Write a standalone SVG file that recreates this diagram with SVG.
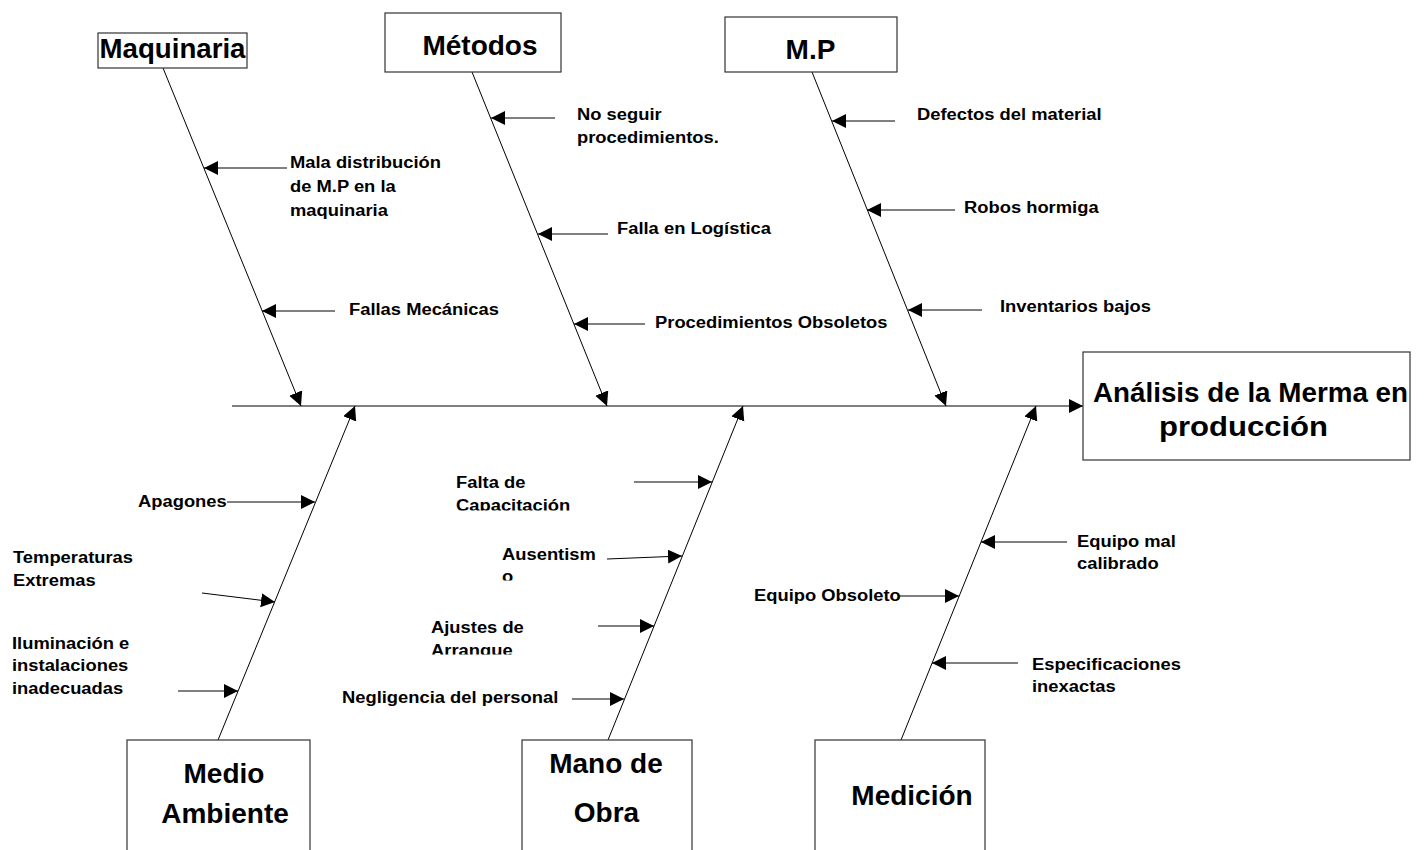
<svg xmlns="http://www.w3.org/2000/svg" width="1427" height="850" viewBox="0 0 1427 850">
<defs>
<marker id="ah" markerUnits="userSpaceOnUse" markerWidth="15" markerHeight="15" refX="14" refY="7" orient="auto">
<path d="M0,0 L14,7 L0,14 z" fill="#000"/>
</marker>
<clipPath id="cCap"><rect x="440" y="470" width="200" height="40.5"/></clipPath>
<clipPath id="cAus"><rect x="490" y="540" width="120" height="40.5"/></clipPath>
<clipPath id="cAju"><rect x="420" y="615" width="160" height="39.5"/></clipPath>
</defs>
<style>
.box{fill:#fff;stroke:#333;stroke-width:1.2}
.ln{stroke:#000;stroke-width:1;fill:none}
.ar{stroke:#000;stroke-width:1;fill:none;marker-end:url(#ah)}
.big{font-family:"Liberation Sans",Arial,sans-serif;font-weight:bold;font-size:28px;fill:#000}
.sm{font-family:"Liberation Sans",Arial,sans-serif;font-weight:bold;font-size:17px;fill:#000}
</style>
<rect width="1427" height="850" fill="#fff"/>

<g id="connectors">
<line class="ar" x1="232" y1="406" x2="1083" y2="406"/>
<line class="ar" x1="163" y1="68" x2="301" y2="406"/>
<line class="ar" x1="472" y1="72" x2="607" y2="406"/>
<line class="ar" x1="812" y1="72" x2="946" y2="406"/>
<line class="ar" x1="218" y1="740" x2="355" y2="406"/>
<line class="ar" x1="608" y1="740" x2="743" y2="406"/>
<line class="ar" x1="901" y1="740" x2="1036" y2="406"/>
<line class="ar" x1="287" y1="168" x2="204" y2="168"/>
<line class="ar" x1="335" y1="311" x2="262" y2="311"/>
<line class="ar" x1="555" y1="118" x2="491" y2="118"/>
<line class="ar" x1="608" y1="234" x2="538" y2="234"/>
<line class="ar" x1="645" y1="324" x2="574" y2="324"/>
<line class="ar" x1="895" y1="121" x2="832" y2="121"/>
<line class="ar" x1="955" y1="210" x2="867" y2="210"/>
<line class="ar" x1="982" y1="310" x2="908" y2="310"/>
<line class="ar" x1="227" y1="502" x2="315" y2="502"/>
<line class="ar" x1="202" y1="593" x2="275" y2="602"/>
<line class="ar" x1="178" y1="691" x2="238" y2="691"/>
<line class="ar" x1="634" y1="482" x2="712" y2="482"/>
<line class="ar" x1="607" y1="559" x2="682" y2="556"/>
<line class="ar" x1="598" y1="626" x2="654" y2="626"/>
<line class="ar" x1="572" y1="699" x2="624" y2="699"/>
<line class="ar" x1="1067" y1="542" x2="981" y2="542"/>
<line class="ar" x1="900" y1="596" x2="959" y2="596"/>
<line class="ar" x1="1018" y1="663" x2="932" y2="663"/>
</g>

<g id="maquinaria">
<rect class="box" x="98" y="33" width="149" height="35"/>
<text class="big" x="172.5" y="58" text-anchor="middle" textLength="146" lengthAdjust="spacingAndGlyphs">Maquinaria</text>
</g>
<g id="metodos">
<rect class="box" x="385" y="13" width="176" height="59"/>
<text class="big" x="480" y="55" text-anchor="middle">Métodos</text>
</g>
<g id="mp">
<rect class="box" x="725" y="17" width="172" height="55"/>
<text class="big" x="810.5" y="59" text-anchor="middle">M.P</text>
</g>
<g id="efecto">
<rect class="box" x="1083" y="352" width="327" height="108"/>
<text class="big" x="1093" y="402" textLength="315" lengthAdjust="spacingAndGlyphs">Análisis de la Merma en</text>
<text class="big" x="1159" y="436" textLength="169" lengthAdjust="spacingAndGlyphs">producción</text>
</g>
<g id="medio-ambiente">
<rect class="box" x="127" y="740" width="183" height="120"/>
<text class="big" x="224" y="783" text-anchor="middle">Medio</text>
<text class="big" x="225" y="823" text-anchor="middle">Ambiente</text>
</g>
<g id="mano-de-obra">
<rect class="box" x="522" y="740" width="170" height="120"/>
<text class="big" x="606" y="773" text-anchor="middle">Mano de</text>
<text class="big" x="606.5" y="822" text-anchor="middle">Obra</text>
</g>
<g id="medicion">
<rect class="box" x="815" y="740" width="170" height="120"/>
<text class="big" x="912" y="805" text-anchor="middle">Medición</text>
</g>

<g id="causas">
<text class="sm" transform="translate(290 168) scale(1.08 1)"><tspan x="0" y="0">Mala distribución</tspan><tspan x="0" y="24">de M.P en la</tspan><tspan x="0" y="48">maquinaria</tspan></text>
<text class="sm" transform="translate(349 315) scale(1.08 1)">Fallas Mecánicas</text>
<text class="sm" transform="translate(577 120) scale(1.08 1)"><tspan x="0" y="0">No seguir</tspan><tspan x="0" y="23">procedimientos.</tspan></text>
<text class="sm" transform="translate(617 234) scale(1.08 1)">Falla en Logística</text>
<text class="sm" transform="translate(655 328) scale(1.08 1)">Procedimientos Obsoletos</text>
<text class="sm" transform="translate(917 120) scale(1.08 1)">Defectos del material</text>
<text class="sm" transform="translate(964 213) scale(1.08 1)">Robos hormiga</text>
<text class="sm" transform="translate(1000 312) scale(1.08 1)">Inventarios bajos</text>
<text class="sm" transform="translate(138 507) scale(1.08 1)">Apagones</text>
<text class="sm" transform="translate(13 563) scale(1.08 1)"><tspan x="0" y="0">Temperaturas</tspan><tspan x="0" y="23">Extremas</tspan></text>
<text class="sm" transform="translate(12 649) scale(1.08 1)"><tspan x="0" y="0">Iluminación e</tspan><tspan x="0" y="22.5">instalaciones</tspan><tspan x="0" y="45">inadecuadas</tspan></text>
<g clip-path="url(#cCap)"><text class="sm" transform="translate(456 488) scale(1.08 1)"><tspan x="0" y="0">Falta de</tspan><tspan x="0" y="23.5">Capacitación</tspan></text></g>
<g clip-path="url(#cAus)"><text class="sm" transform="translate(502 560) scale(1.08 1)"><tspan x="0" y="0">Ausentism</tspan><tspan x="0" y="22.5">o</tspan></text></g>
<g clip-path="url(#cAju)"><text class="sm" transform="translate(431 633) scale(1.08 1)"><tspan x="0" y="0">Ajustes de</tspan><tspan x="0" y="23.5">Arranque</tspan></text></g>
<text class="sm" transform="translate(342 703) scale(1.08 1)">Negligencia del personal</text>
<text class="sm" transform="translate(1077 547) scale(1.08 1)"><tspan x="0" y="0">Equipo mal</tspan><tspan x="0" y="22">calibrado</tspan></text>
<text class="sm" transform="translate(754 601) scale(1.08 1)">Equipo Obsoleto</text>
<text class="sm" transform="translate(1032 670) scale(1.08 1)"><tspan x="0" y="0">Especificaciones</tspan><tspan x="0" y="22">inexactas</tspan></text>
</g>
</svg>
